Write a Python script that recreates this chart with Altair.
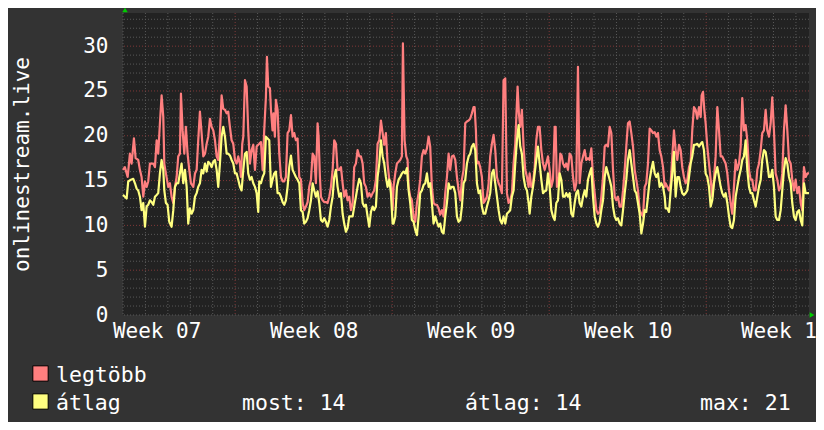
import altair as alt
import pandas as pd

# ---- data (hours since Wed 00:00 of week 07, value) ----
max_points = [
    (0, 16.2), (2, 16.5), (5, 15.4), (7.4, 18.0), (9.2, 16.9), (11.7, 19.7), (13.5, 17.5), (16.3, 17.3),
    (18.1, 16.2), (19.9, 15.4), (21.7, 13.2), (23.5, 14.9), (25.3, 14.3), (27, 14.9), (28.8, 16.9),
    (32.4, 16.9), (34.2, 16.5), (36, 19.5), (37.7, 18.0), (39.5, 21.4), (41.3, 24.5), (43.1, 22.1),
    (44.2, 16.9), (45.9, 15.8), (48.4, 14.3), (50.2, 14.7), (52, 13.2), (53.8, 12.5), (55.6, 14.3),
    (57.4, 15.4), (59.1, 17.7), (60.9, 18.0), (62, 24.7), (63.8, 20.6), (65.6, 18.0), (67.3, 21.0),
    (69.1, 18.0), (70.9, 16.2), (72.7, 14.7), (75.2, 14.3), (77, 15.8), (78.8, 16.2), (80.5, 19.5),
    (82.3, 22.7), (84.1, 20.3), (85.9, 17.7), (87.7, 18.0), (89.5, 19.1), (91.2, 19.9), (93, 21.9),
    (94.8, 21.0), (96.6, 20.6), (98.4, 19.5), (100.2, 17.7), (101.9, 17.3), (103.7, 20.3), (105.5, 24.5),
    (107.3, 23.0), (109.1, 22.9), (110.9, 22.5), (112.6, 22.7), (114.4, 21.0), (116.2, 19.5), (118, 19.1),
    (119.8, 17.3), (121.6, 16.9), (123.3, 17.7), (125.1, 16.9), (126.2, 15.4), (127.6, 19.1), (128.7, 19.9),
    (130.5, 26.2), (132.3, 25.5), (134, 20.6), (135.8, 16.9), (137.6, 18.4), (139.4, 19.0), (141.2, 16.2),
    (143, 18.8), (144.7, 19.0),
    (145.8, 19.1), (147.6, 19.3), (149.4, 16.2), (151.1, 20.6), (152.9, 24.3), (154, 28.8), (155.4, 25.5),
    (157.2, 25.3), (158.3, 22.9), (160, 20.6), (161.1, 22.5), (162.5, 19.9), (163.6, 24.0), (165.4, 22.9),
    (167.2, 18.0), (169, 15.4), (170.8, 14.9), (172.5, 14.9), (174.3, 15.4), (176.1, 20.3), (177.9, 20.6),
    (179.7, 22.3), (181.5, 19.9), (183.2, 20.3), (185, 19.5), (186.8, 19.7), (188.6, 15.4), (190.4, 15.1),
    (192.2, 12.5), (193.9, 11.7), (195.7, 12.1), (197.5, 12.6), (199.3, 14.3), (201.1, 15.1), (202.9, 18.0),
    (204.6, 17.7), (206.4, 14.7), (208.2, 21.4), (209.3, 19.9), (210.7, 15.4), (211.8, 13.2), (213.6, 12.8),
    (215.3, 12.6), (217.1, 12.6), (218.9, 12.5), (220.7, 13.2), (222.5, 14.3), (224.3, 16.2), (226, 19.5),
    (227.8, 19.1), (229.6, 16.2), (231.4, 16.2), (233.2, 16.5), (235, 14.7), (236.7, 13.2), (238.5, 13.9),
    (240.3, 12.8), (242.1, 13.2), (243.9, 11.7), (245.7, 12.5), (247.4, 16.5), (249.2, 16.9), (251, 18.4),
    (252.8, 17.7), (254.6, 17.7), (256.4, 16.9), (258.1, 14.7), (259.9, 14.3), (261.7, 13.2), (263.5, 13.6),
    (265.3, 13.2), (267.1, 13.6), (268.8, 13.9), (270.6, 15.1), (272.4, 19.1), (274.2, 19.5), (276, 21.7),
    (277.8, 20.3), (279.5, 19.0), (281.3, 20.3), (283.1, 16.9), (284.9, 15.1), (286.7, 14.7), (288.5, 11.7),
    (289.5, 14.3), (291.3, 15.8), (293.1, 16.9), (294.9, 17.1), (296.6, 17.3), (298.4, 17.7), (299.5, 30.3),
    (301.3, 19.5), (303.1, 17.7), (304.5, 17.3), (305.6, 14.3), (307.3, 13.2), (309.1, 12.8), (310.9, 11.0),
    (312.7, 10.4), (314.5, 12.5), (316.3, 13.6), (318, 15.1), (319.8, 17.7), (321.6, 18.4), (323.4, 18.0),
    (325.2, 18.6), (327, 19.9), (328.7, 18.8), (330.5, 14.3), (332.3, 12.5), (334.1, 12.3), (335.9, 12.3),
    (337.7, 11.9), (339.4, 11.2), (341.2, 11.7), (343, 11.0), (344.8, 13.6), (346.6, 15.4), (348.4, 18.0),
    (350.1, 16.2), (351.9, 17.7), (353.7, 17.8), (355.5, 17.3), (357.3, 15.4), (359.1, 13.9), (360.9, 12.8),
    (362.6, 15.1), (364.4, 16.2), (366.2, 21.4), (368, 21.6), (369.8, 21.7), (371.5, 21.9), (373.3, 22.5),
    (375.1, 23.2), (376.2, 23.2), (377.6, 20.6), (378.7, 16.9), (380.5, 17.1), (382.2, 16.5), (384, 15.4),
    (385.8, 12.5), (387.6, 12.8), (389.4, 13.2), (391.2, 14.7), (392.9, 17.7), (394.7, 19.1), (396.5, 20.1),
    (398.3, 18.4), (400.1, 15.4), (401.9, 14.7), (403.6, 14.3), (405.4, 13.6), (407.2, 26.2), (409, 26.4),
    (410.8, 13.6), (412.6, 12.5), (414.3, 12.8), (416.1, 13.6), (417.9, 16.9), (419.7, 19.1), (422.2, 25.5),
    (423.6, 22.5), (425, 21.0), (426.8, 22.9), (428.6, 18.8), (430.4, 16.2), (432.2, 15.4), (434, 14.3),
    (435.1, 15.8), (436.9, 14.3), (438.7, 14.7), (440.5, 16.5), (442.2, 19.5), (444, 21.0), (445.8, 21.0),
    (447.6, 18.4), (449.4, 16.9), (451.2, 16.2), (452.9, 16.9), (454.7, 17.7), (456.5, 16.2), (458.3, 14.3),
    (460.1, 15.1), (461.9, 21.0), (462.9, 21.0), (464.3, 14.3), (466.1, 14.7), (467.9, 18.0), (469.3, 17.8),
    (470.8, 16.9), (472.6, 16.5), (474.3, 16.9), (476.1, 16.2), (477.9, 18.0), (479.7, 17.7), (481.5, 15.4),
    (483.3, 13.9), (485, 14.7), (486.8, 27.7), (488.6, 14.7), (490.4, 16.9), (492.2, 17.7), (494, 18.4),
    (495.7, 17.3), (497.5, 17.5), (499.3, 17.3), (501.1, 18.6), (502.9, 15.4), (504.7, 13.6), (506.5, 11.7),
    (508.2, 11.3), (510, 11.5), (511.8, 13.2), (513.6, 15.4), (515.4, 18.8), (517.1, 19.0), (518.9, 18.8),
    (520.7, 21.0), (522.5, 20.3), (524.3, 16.2), (526.1, 13.2), (527.8, 12.8), (529.6, 13.2), (531.4, 12.1),
    (533.2, 12.1), (535, 13.9), (536.8, 16.2), (538.5, 18.8), (540.3, 21.4), (542.1, 21.6), (543.9, 20.3),
    (545.7, 18.8), (547.5, 16.2), (549.2, 15.1), (551, 13.9), (552.8, 11.7), (554.6, 11.3), (556.4, 11.0),
    (558.2, 14.3), (559.9, 14.7), (561.7, 16.9), (563.5, 20.8), (565.3, 20.6), (567.1, 20.3), (568.9, 20.4),
    (570.6, 19.9), (572.4, 20.3), (574.2, 18.4), (576, 17.7), (577.8, 16.5), (579.6, 14.3),
    (580.6, 14.7), (582.4, 14.3), (584.2, 13.9), (586, 14.7), (587.7, 17.7), (589.5, 20.6), (591.3, 18.4),
    (593.1, 17.3), (594.9, 19.0), (596.7, 18.4), (598.4, 16.5), (600.2, 15.4), (602, 14.7), (603.8, 15.1),
    (605.6, 16.5), (607.4, 17.1), (609.1, 20.6), (610.9, 23.2), (612.7, 22.9), (614.5, 21.9), (616.3, 23.2),
    (618.1, 22.1), (619.1, 24.5), (620.6, 24.9), (622, 22.9), (623.4, 21.4), (625.2, 18.8), (627, 16.9),
    (628.8, 15.1), (630.5, 13.2), (632.3, 15.1), (634.1, 17.7), (635.9, 23.2), (637.7, 20.6), (639.5, 17.7),
    (641.2, 17.7), (643, 17.3), (644.8, 16.9), (646.6, 15.8), (648.4, 13.9), (650.2, 12.5), (651.9, 11.3),
    (653.7, 14.3), (655.5, 17.3), (657.3, 16.2), (659.1, 16.9), (660.9, 18.8), (662.6, 24.2), (664.4, 20.6),
    (666.2, 21.2), (668, 19.5), (669.8, 16.2), (671.6, 15.1), (673.3, 15.1), (675.1, 13.9), (676.9, 13.9),
    (678.7, 16.2), (680.5, 16.9), (682.3, 18.4), (684, 20.3), (685.8, 20.6), (687.6, 22.9), (689.4, 20.6),
    (691.2, 19.9), (693, 21.4), (694.7, 24.3), (696.5, 20.6), (698.3, 15.8), (700.1, 15.1), (701.9, 13.9),
    (703.7, 14.3), (705.4, 15.8), (707.2, 20.6), (709, 23.4), (710.8, 20.6), (712.6, 17.3), (714.4, 16.9),
    (716.1, 15.1), (717.9, 13.9), (719.7, 15.1), (721.5, 13.6), (723.3, 14.3), (725.1, 12.5), (726.8, 11.7),
    (728.6, 16.5), (730.4, 15.4), (732.2, 15.8), (734, 15.8),
]

avg_points = [
    (0, 13.4), (2, 13.2), (3.9, 13.0), (5.6, 14.9), (8.5, 15.1), (11, 15.2), (12.8, 14.7), (14.6, 14.1),
    (16.3, 13.9), (18.1, 13.2), (19.9, 11.7), (21.7, 12.5), (23.5, 9.85), (25.3, 12.1), (27, 12.3),
    (28.8, 12.8), (30.6, 12.6), (32.4, 12.3), (34.2, 13.2), (36, 13.4), (37.7, 13.6), (39.5, 15.8),
    (41.3, 17.3), (43.1, 16.2), (44.2, 13.9), (45.9, 12.5), (47.7, 12.3), (49.5, 10.4), (52, 9.85),
    (53.8, 11.7), (55.6, 14.3), (57.4, 14.7), (59.1, 14.7), (60.9, 15.8), (62.7, 16.9), (64.5, 14.7),
    (66.3, 16.2), (68.1, 14.3), (69.8, 10.2), (71.6, 11.9), (73.4, 11.3), (75.2, 11.7), (77, 13.2),
    (78.8, 13.6), (80.5, 14.3), (82.3, 14.7), (84.1, 16.2), (85.9, 15.8), (87.7, 16.9), (89.5, 16.0),
    (91.2, 17.1), (93, 16.9), (94.8, 16.5), (96.6, 17.1), (98.4, 17.3), (100.2, 16.2), (101.9, 14.3),
    (103.7, 16.9), (105.5, 19.9), (107.3, 21.0), (109.1, 19.9), (110.9, 18.0), (112.6, 18.0), (114.4, 17.8),
    (116.2, 17.3), (118, 16.9), (119.8, 15.8), (121.6, 15.8), (123.3, 15.1), (125.1, 14.3), (126.9, 13.9),
    (128.7, 16.2), (130.5, 18.0), (132.3, 18.2), (134, 15.8), (135.8, 15.1), (137.6, 15.4), (139.4, 14.7),
    (141.2, 14.3), (143, 13.6), (144.7, 11.5),
    (145.8, 14.9), (147.6, 14.7), (149.4, 15.4), (151.1, 15.8), (152.9, 19.9), (154.7, 19.7), (156.5, 19.5),
    (158.3, 14.3), (160, 15.1), (161.8, 15.8), (163.6, 16.0), (165.4, 13.6), (167.2, 13.6), (169, 13.2),
    (170.8, 12.6), (172.5, 12.3), (174.3, 12.8), (176.1, 14.3), (177.9, 16.5), (179.7, 17.8), (181.5, 16.2),
    (183.2, 15.8), (185, 15.4), (186.8, 15.1), (188.6, 14.7), (190.4, 11.7), (192.2, 11.5), (193.9, 10.2),
    (195.7, 10.4), (197.5, 10.8), (199.3, 11.7), (201.1, 12.8), (202.9, 14.7), (204.6, 13.9), (206.4, 13.2),
    (208.2, 13.8), (210, 12.5), (211.8, 10.6), (213.6, 10.4), (215.3, 10.8), (217.1, 10.4), (218.9, 9.85),
    (220.7, 10.6), (222.5, 12.1), (224.3, 13.2), (226, 15.4), (227.8, 16.2), (229.6, 14.3), (231.4, 13.2),
    (233.2, 13.6), (235, 11.3), (236.7, 10.2), (238.5, 9.3), (240.3, 9.7), (242.1, 11.0), (243.9, 11.0),
    (245.7, 11.0), (247.4, 12.1), (249.2, 13.2), (251, 14.3), (252.8, 15.2), (254.6, 14.7), (256.4, 12.5),
    (258.1, 12.1), (259.9, 12.3), (261.7, 11.0), (263.5, 9.85), (265.3, 11.5), (267.1, 12.1), (268.8, 11.7),
    (270.6, 12.1), (272.4, 15.4), (274.2, 16.9), (276, 19.5), (277.8, 17.7), (279.5, 16.9), (281.3, 15.4),
    (283.1, 14.3), (284.9, 15.1), (286.7, 13.6), (288.5, 10.2),
    (289.5, 10.2), (291.3, 11.0), (293.1, 14.3), (294.9, 15.1), (296.6, 15.4), (298.4, 15.8), (300.2, 16.0),
    (302, 15.8), (303.8, 16.4), (305.6, 13.9), (307.3, 12.5), (309.1, 10.6), (310.9, 10.4), (312.7, 9.5),
    (314.5, 8.9), (316.3, 11.0), (318, 13.6), (319.8, 13.9), (321.6, 14.5), (323.4, 14.7), (325.2, 15.8),
    (327, 14.3), (328.7, 14.7), (330.5, 12.5), (332.3, 10.2), (334.1, 11.0), (335.9, 10.4), (337.7, 9.85),
    (339.4, 10.2), (341.2, 9.3), (343, 9.1), (344.8, 11.0), (346.6, 12.5), (348.4, 14.7), (350.1, 14.1),
    (351.9, 14.3), (353.7, 14.3), (355.5, 13.6), (357.3, 11.0), (359.1, 10.4), (360.9, 10.6), (362.6, 12.1),
    (364.4, 14.7), (366.2, 15.1), (368, 16.9), (369.8, 17.7), (371.5, 18.0), (373.3, 18.8), (375.1, 19.1),
    (376.9, 18.4), (378.7, 14.7), (380.5, 13.6), (382.2, 13.9), (384, 12.1), (385.8, 11.3), (387.6, 11.3),
    (389.4, 12.1), (391.2, 12.8), (392.9, 13.6), (394.7, 15.8), (396.5, 16.2), (398.3, 14.7), (400.1, 13.2),
    (401.9, 11.7), (403.6, 10.6), (405.4, 10.2), (407.2, 11.0), (409, 10.2), (410.8, 11.3), (412.6, 11.5),
    (414.3, 11.7), (416.1, 13.2), (417.9, 13.9), (419.7, 16.9), (421.5, 19.5), (423.3, 21.2), (425, 18.8),
    (426.8, 18.0), (428.6, 15.4), (430.4, 14.3), (432.2, 13.9), (434, 12.5),
    (435.1, 11.3), (436.9, 13.2), (438.7, 14.3), (440.5, 15.8), (442.2, 17.3), (444, 18.8), (445.8, 16.9),
    (447.6, 15.1), (449.4, 13.6), (451.2, 13.8), (452.9, 13.9), (454.7, 15.8), (456.5, 14.3), (458.3, 11.7),
    (460.1, 11.0), (461.9, 10.6), (463.6, 12.5), (465.4, 12.8), (467.2, 15.8), (469, 15.1), (470.8, 13.2),
    (472.6, 13.2), (474.3, 13.6), (476.1, 13.2), (477.9, 13.6), (479.7, 11.3), (481.5, 11.0), (483.3, 12.5),
    (485, 13.6), (486.8, 13.9), (488.6, 12.5), (490.4, 12.1), (492.2, 13.2), (494, 13.9), (495.7, 13.2),
    (497.5, 15.1), (499.3, 15.8), (501.1, 16.4), (502.9, 13.2), (504.7, 11.0), (506.5, 10.2), (508.2, 9.85),
    (510, 10.4), (511.8, 11.7), (513.6, 12.8), (515.4, 15.4), (517.1, 16.5), (518.9, 15.8), (520.7, 15.1),
    (522.5, 14.3), (524.3, 12.1), (526.1, 11.0), (527.8, 10.6), (529.6, 10.8), (531.4, 10.2), (533.2, 10.0),
    (535, 11.7), (536.8, 13.6), (538.5, 15.1), (540.3, 17.3), (542.1, 18.4), (543.9, 16.9), (545.7, 15.4),
    (547.5, 13.9), (549.2, 13.6), (551, 12.5), (552.8, 11.3), (554.6, 9.1), (556.4, 10.2), (558.2, 11.7),
    (559.9, 11.5), (561.7, 13.2), (563.5, 15.1), (565.3, 16.2), (567.1, 17.1), (568.9, 15.8), (570.6, 15.4),
    (572.4, 15.8), (574.2, 14.3), (576, 14.7), (577.8, 14.3), (579.6, 13.2),
    (580.6, 11.9), (582.4, 11.9), (584.2, 11.5), (586, 13.9), (587.7, 15.8), (589.5, 18.2), (591.3, 13.2),
    (593.1, 15.4), (594.9, 15.4), (596.7, 14.3), (598.4, 13.6), (600.2, 13.4), (602, 13.6), (603.8, 13.9),
    (605.6, 15.4), (607.4, 16.9), (609.1, 17.7), (610.9, 19.0), (612.7, 19.0), (614.5, 19.1), (616.3, 18.8),
    (618.1, 19.1), (619.8, 19.3), (621.6, 18.4), (623.4, 15.8), (625.2, 15.4), (627, 14.3), (628.8, 12.1),
    (630.5, 12.8), (632.3, 14.7), (634.1, 15.8), (635.9, 16.5), (637.7, 15.4), (639.5, 14.3), (641.2, 13.6),
    (643, 13.2), (644.8, 13.6), (646.6, 12.5), (648.4, 11.0), (650.2, 9.85), (651.9, 9.7), (653.7, 10.6),
    (655.5, 13.2), (657.3, 14.3), (659.1, 15.4), (660.9, 16.2), (662.6, 17.3), (664.4, 17.7), (666.2, 19.5),
    (668, 16.2), (669.8, 14.3), (671.6, 13.6), (673.3, 13.6), (675.1, 12.8), (676.9, 12.1), (678.7, 13.2),
    (680.5, 14.3), (682.3, 15.1), (684, 17.3), (685.8, 18.4), (687.6, 18.2), (689.4, 16.9), (691.2, 15.4),
    (693, 15.4), (694.7, 16.2), (696.5, 14.3), (698.3, 11.0), (700.1, 10.6), (701.9, 10.6), (703.7, 11.7),
    (705.4, 13.9), (707.2, 16.2), (709, 17.5), (710.8, 16.9), (712.6, 15.4), (714.4, 14.7), (716.1, 12.5),
    (717.9, 11.0), (719.7, 10.6), (721.5, 11.5), (723.3, 11.7), (725.1, 10.6), (726.8, 10.0), (728.6, 14.7),
    (730.4, 13.6), (732.2, 13.6), (734, 13.6),
]

week_labels = ["Week 07", "Week 08", "Week 09", "Week 10", "Week 11"]
week_centers = [36, 204, 372, 540, 708]      # hours
week_starts = [120, 288, 456, 624]           # hours
y_ticks = [0, 5, 10, 15, 20, 25, 30]
y_title = "onlinestream.live"
legend_labels = ["legtöbb", "átlag"]
stats_labels = ["most: 14", "átlag: 14", "max: 21"]

X_DOMAIN = [0, 734]
Y_DOMAIN = [0, 33.7]

RED = "#ff7f7f"
YELLOW = "#ffff80"
FONT = "DejaVu Sans Mono"

max_df = pd.DataFrame(max_points, columns=["t", "v"])
avg_df = pd.DataFrame(avg_points, columns=["t", "v"])

xs = alt.Scale(domain=X_DOMAIN, nice=False, zero=False)
ys = alt.Scale(domain=Y_DOMAIN, nice=False, zero=False)

day_df = pd.DataFrame({"t": [h for h in range(0, 734, 24) if h not in week_starts]})
week_df = pd.DataFrame({"t": week_starts})
ymin_df = pd.DataFrame({"v": [k for k in range(0, 34) if k % 5 != 0 or k == 0]})
ymaj_df = pd.DataFrame({"v": [k for k in y_ticks if k > 0]})

label_expr = " : ".join(f"datum.value == {c} ? '{l}'" for c, l in zip(week_centers, week_labels)) + " : ''"

x_axis = alt.Axis(
    values=week_centers, labelExpr=label_expr, title=None, grid=False, ticks=False, domain=False,
    labelFont=FONT, labelFontSize=21, labelColor="#ffffff", labelPadding=5,
    labelFlush=False, labelOverlap=False, labelBound=False)
y_axis = alt.Axis(
    values=y_ticks, grid=False, ticks=False, domain=False, format="d",
    labelFont=FONT, labelFontSize=21, labelColor="#ffffff", labelPadding=15,
    title=y_title, titleFont=FONT, titleFontSize=21, titleFontWeight="normal",
    titleColor="#ffffff", titleAngle=270, titleX=-95, titleY=151,
    titleAlign="center", titleBaseline="alphabetic")

X = alt.X("t:Q", scale=xs, axis=x_axis, title=None)
Y = alt.Y("v:Q", scale=ys, axis=y_axis, title=y_title)

grid_gray = "#595959"
grid_red = "#803838"

vminor = alt.Chart(day_df).mark_rule(color=grid_gray, strokeDash=[1, 2], strokeWidth=1).encode(x=X)
vmajor = alt.Chart(week_df).mark_rule(color=grid_red, strokeDash=[1, 2], strokeWidth=1).encode(x=X)
hminor = alt.Chart(ymin_df).mark_rule(color=grid_gray, strokeDash=[1, 2], strokeWidth=1).encode(y=Y)
hmajor = alt.Chart(ymaj_df).mark_rule(color=grid_red, strokeDash=[1, 2], strokeWidth=1).encode(y=Y)

max_line = alt.Chart(max_df).mark_line(color=RED, strokeWidth=2.2, strokeJoin="round").encode(x=X, y=Y)
avg_line = alt.Chart(avg_df).mark_line(color=YELLOW, strokeWidth=2.2, strokeJoin="round").encode(x=X, y=Y)

one = pd.DataFrame({"k": [0]})
arrow_up = alt.Chart(one).mark_point(shape="triangle-up", filled=True, size=30, color="#00cc00", opacity=1).encode(
    x=alt.value(2), y=alt.value(-3))
arrow_right = alt.Chart(one).mark_point(shape="triangle-right", filled=True, size=30, color="#00cc00", opacity=1).encode(
    x=alt.value(689), y=alt.value(302))

sq_red = alt.Chart(one).mark_square(size=235, filled=True, color=RED, stroke="#000000", strokeWidth=1, opacity=1).encode(
    x=alt.value(-82.5), y=alt.value(360.5))
sq_yel = alt.Chart(one).mark_square(size=235, filled=True, color=YELLOW, stroke="#000000", strokeWidth=1, opacity=1).encode(
    x=alt.value(-82.5), y=alt.value(388.5))

def txt(s, x, y):
    return alt.Chart(one).mark_text(text=s, align="left", baseline="alphabetic", font=FONT,
                                    fontSize=21.5, color="#ffffff").encode(x=alt.value(x), y=alt.value(y))

texts = [
    txt(legend_labels[0], -67, 368.5),
    txt(legend_labels[1], -67, 396.5),
    txt(stats_labels[0], 119, 396.5),
    txt(stats_labels[1], 342, 396.5),
    txt(stats_labels[2], 577, 396.5),
]

chart = alt.layer(vminor, vmajor, hminor, hmajor, max_line, avg_line, arrow_up, arrow_right,
                  sq_red, sq_yel, *texts).properties(
    width=686, height=302,
    autosize=alt.AutoSizeParams(type="none"),
    padding={"left": 115, "top": 5, "right": 7, "bottom": 107},
    background="#333333",
).configure_view(fill="#222222", stroke=None)

chart.save("out.html", embed_options={"renderer": "svg", "actions": False})
